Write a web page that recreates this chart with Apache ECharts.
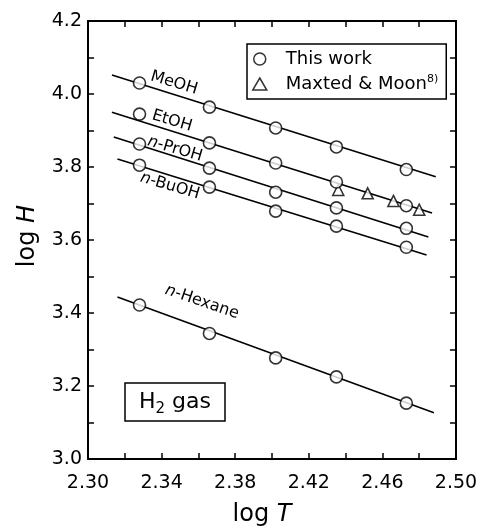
<!DOCTYPE html>
<html><head><meta charset="utf-8">
<script src="https://cdn.jsdelivr.net/npm/echarts@6/dist/echarts.min.js"></script>
<style>html,body{margin:0;padding:0;background:#fff}#c{width:484px;height:529px}</style>
</head><body><div id="c"></div>
<script>
// ---- data ----
const logT = [2.328, 2.366, 2.402, 2.435, 2.473];
const meohH = [4.030, 3.964, 3.907, 3.855, 3.793];
const etohH = [3.945, 3.866, 3.811, 3.759, 3.694];
const prohH = [3.863, 3.797, 3.731, 3.688, 3.632];
const buohH = [3.805, 3.745, 3.679, 3.638, 3.580];
const hexaneH = [3.422, 3.344, 3.277, 3.225, 3.153];
const solvents = ['MeOH', 'EtOH', 'n-PrOH', 'n-BuOH', 'n-Hexane'];
// fitted straight lines: start / end (log T, log H)
const fitStartT = [2.313, 2.313, 2.314, 2.316, 2.316];
const fitStartH = [4.052, 3.950, 3.882, 3.822, 3.444];
const fitEndT = [2.489, 2.487, 2.485, 2.484, 2.488];
const fitEndH = [3.773, 3.674, 3.608, 3.559, 3.127];
// Maxted & Moon
const maxtedT = [2.436, 2.452, 2.466, 2.480];
const maxtedH = [3.737, 3.728, 3.707, 3.683];
// tick labels
const xTickLabels = ['2.30', '2.34', '2.38', '2.42', '2.46', '2.50'];
const yTickLabels = ['3.0', '3.2', '3.4', '3.6', '3.8', '4.0', '4.2'];

const FONT = 'DejaVu Sans';
const allH = [meohH, etohH, prohH, buohH, hexaneH];

const chart = echarts.init(document.getElementById('c'), null, {renderer: 'canvas'});

const axisLineStyle = {color: '#000', width: 2};
const tickStyle = {inside: true, length: 6, lineStyle: {color: '#000', width: 1.5}};

function xAxisDef(pos, showLabel) {
  return {
    type: 'value', min: 2.30, max: 2.50, interval: 0.02, position: pos,
    axisLine: {onZero: false, lineStyle: axisLineStyle},
    axisTick: tickStyle,
    axisLabel: {
      show: showLabel, color: '#000', fontSize: 19, fontFamily: FONT, margin: 15,
      formatter: v => { const s = v.toFixed(2); return xTickLabels.includes(s) ? s : ''; }
    },
    splitLine: {show: false}
  };
}
function yAxisDef(pos, showLabel) {
  return {
    type: 'value', min: 3.0, max: 4.2, interval: 0.1, position: pos,
    axisLine: {onZero: false, lineStyle: axisLineStyle},
    axisTick: tickStyle,
    axisLabel: {
      show: showLabel, color: '#000', fontSize: 19, fontFamily: FONT, margin: 6,
      formatter: v => { const s = v.toFixed(1); return yTickLabels.includes(s) ? s : ''; }
    },
    splitLine: {show: false}
  };
}

const series = [];
for (let i = 0; i < solvents.length; i++) {
  series.push({
    name: 'fit ' + solvents[i], type: 'line', symbol: 'none', silent: true,
    data: [[fitStartT[i], fitStartH[i]], [fitEndT[i], fitEndH[i]]],
    lineStyle: {color: '#000', width: 1.6}, z: 2
  });
}
for (let i = 0; i < solvents.length; i++) {
  series.push({
    name: 'This work', type: 'scatter', symbol: 'circle', symbolSize: 12,
    data: logT.map((t, j) => [t, allH[i][j]]),
    itemStyle: {color: '#fff', borderColor: '#000', borderWidth: 1.6}, z: 4
  });
}
series.push({
  name: 'Maxted & Moon', type: 'scatter', symbol: 'triangle', symbolSize: 11,
  data: maxtedT.map((t, j) => [t, maxtedH[j]]),
  itemStyle: {color: '#fff', borderColor: '#000', borderWidth: 1.6}, z: 3
});

function lineLabel(text, x, y, rot) {
  return {
    type: 'text', x: x, y: y, rotation: rot, z: 10,
    style: {
      text: text, font: '16px "' + FONT + '"', fill: '#000',
      align: 'center', verticalAlign: 'middle',
      rich: {i: {fontStyle: 'italic', fontSize: 16, fontFamily: FONT}}
    }
  };
}

chart.setOption({
  animation: false,
  backgroundColor: '#fff',
  grid: {left: 88, right: 28, top: 21, bottom: 70},
  xAxis: [xAxisDef('bottom', true), xAxisDef('top', false)],
  yAxis: [yAxisDef('left', true), yAxisDef('right', false)],
  legend: {
    orient: 'vertical', left: 247, top: 44,
    padding: [6, 8, 6, 5], itemGap: 6, itemWidth: 14, itemHeight: 12,
    borderColor: '#000', borderWidth: 1.5, backgroundColor: '#fff',
    selectedMode: false,
    data: [
      {name: 'This work', icon: 'circle', itemStyle: {color: '#fff', borderColor: '#000', borderWidth: 1.5}},
      {name: 'Maxted & Moon', icon: 'triangle', itemStyle: {color: '#fff', borderColor: '#000', borderWidth: 1.5}}
    ],
    formatter: n => n === 'Maxted & Moon' ? '{a|Maxted & Moon}{s|8)}' : '{a|' + n + '}',
    textStyle: {
      color: '#000', padding: [0, 0, 0, 14],
      rich: {
        a: {fontSize: 18, fontFamily: FONT, color: '#000', lineHeight: 20},
        s: {fontSize: 11, fontFamily: FONT, color: '#000', verticalAlign: 'top', lineHeight: 11}
      }
    }
  },
  graphic: [
    lineLabel('MeOH', 174, 83, -0.29),
    lineLabel('EtOH', 172, 121, -0.29),
    lineLabel('{i|n}-PrOH', 175, 149, -0.29),
    lineLabel('{i|n}-BuOH', 170, 186, -0.29),
    lineLabel('{i|n}-Hexane', 202, 302, -0.33),
    {
      type: 'rect', shape: {x: 125, y: 383, width: 100, height: 38}, z: 10,
      style: {fill: '#fff', stroke: '#000', lineWidth: 1.5}
    },
    {
      type: 'text', x: 175, y: 402, z: 11,
      style: {
        text: '{a|H}{s|2}{a| gas}', align: 'center', verticalAlign: 'middle',
        rich: {
          a: {fontSize: 22, fontFamily: FONT, color: '#000', lineHeight: 30},
          s: {fontSize: 15, fontFamily: FONT, color: '#000', lineHeight: 14, verticalAlign: 'bottom'}
        }
      }
    },
    {
      type: 'text', x: 28, y: 236, rotation: Math.PI / 2, z: 10,
      style: {
        text: '{a|log }{b|H}', align: 'center', verticalAlign: 'middle',
        rich: {
          a: {fontSize: 24, fontFamily: FONT, color: '#000'},
          b: {fontSize: 24, fontFamily: FONT, color: '#000', fontStyle: 'italic'}
        }
      }
    },
    {
      type: 'text', x: 262, y: 515, z: 10,
      style: {
        text: '{a|log }{b|T}', align: 'center', verticalAlign: 'middle',
        rich: {
          a: {fontSize: 24, fontFamily: FONT, color: '#000'},
          b: {fontSize: 24, fontFamily: FONT, color: '#000', fontStyle: 'italic'}
        }
      }
    }
  ],
  series: series
});
</script></body></html>
